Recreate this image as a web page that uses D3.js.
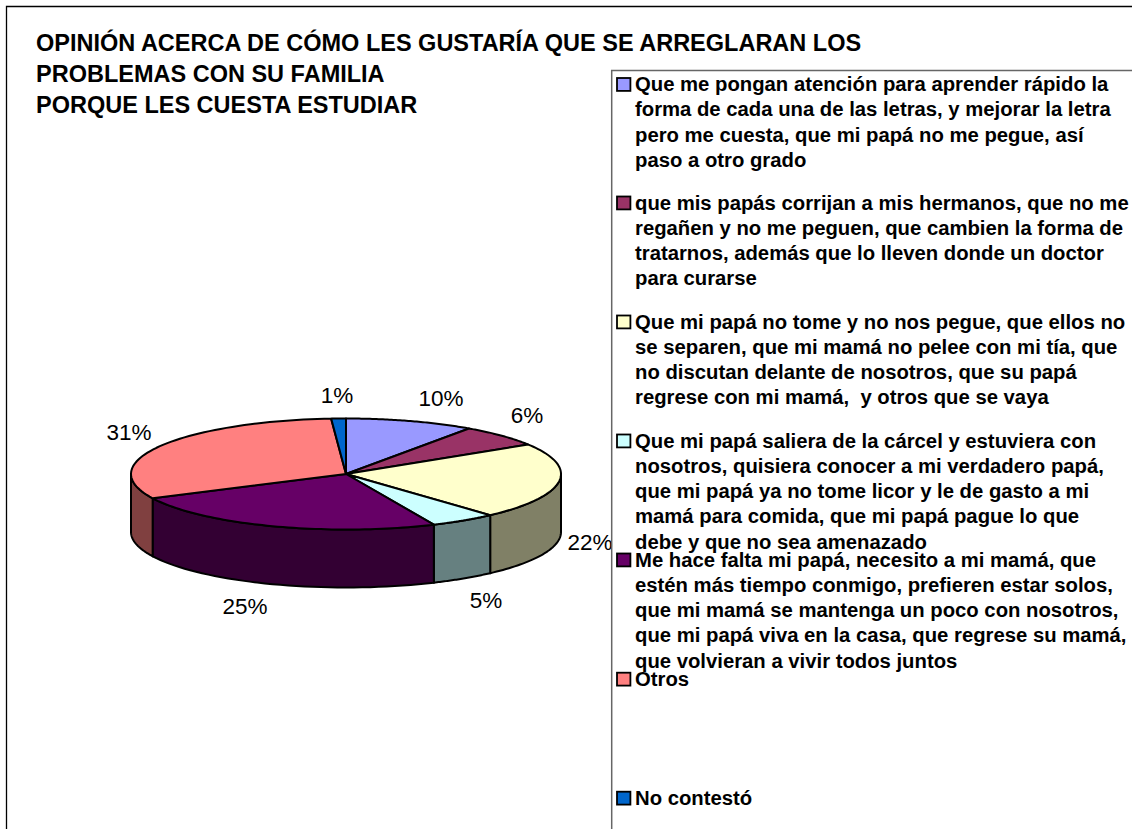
<!DOCTYPE html>
<html><head><meta charset="utf-8">
<script src="https://cdnjs.cloudflare.com/ajax/libs/d3/7.8.5/d3.min.js"></script>
<style>html,body{margin:0;padding:0;background:#fff}svg{display:block}
text{font-family:"Liberation Sans",Arial,sans-serif;fill:#000;white-space:pre}</style></head>
<body><svg id="c" width="1132" height="829"></svg>
<script>
const titleLines=["OPINIÓN ACERCA DE CÓMO LES GUSTARÍA QUE SE ARREGLARAN LOS","PROBLEMAS CON SU FAMILIA","PORQUE LES CUESTA ESTUDIAR"];
const values=[9.7,6.4,22.2,5.0,24.5,31.1,1.1];
const topColors=["#9999FF","#993366","#FFFFCC","#CCFFFF","#660066","#FF8080","#0066CC"];
const sideColors=["#4D4D80","#4D1A33","#808066","#668080","#330033","#804040","#003366"];
const legendLines=[
["Que me pongan atención para aprender rápido la","forma de cada una de las letras, y mejorar la letra","pero me cuesta, que mi papá no me pegue, así","paso a otro grado"],
["que mis papás corrijan a mis hermanos, que no me","regañen y no me peguen, que cambien la forma de","tratarnos, además que lo lleven donde un doctor","para curarse"],
["Que mi papá no tome y no nos pegue, que ellos no","se separen, que mi mamá no pelee con mi tía, que","no discutan delante de nosotros, que su papá","regrese con mi mamá,  y otros que se vaya"],
["Que mi papá saliera de la cárcel y estuviera con","nosotros, quisiera conocer a mi verdadero papá,","que mi papá ya no tome licor y le de gasto a mi","mamá para comida, que mi papá pague lo que","debe y que no sea amenazado"],
["Me hace falta mi papá, necesito a mi mamá, que","estén más tiempo conmigo, prefieren estar solos,","que mi mamá se mantenga un poco con nosotros,","que mi papá viva en la casa, que regrese su mamá,","que volvieran a vivir todos juntos"],
["Otros"],["No contestó"]];
const legendBase=[91,209.5,328.5,447.5,566.5,685.7,804.7];
const labelPos=[[441,406],[527,423],[590,550],[486,608],[245,614],[129,440],[337,403]];

const svg=d3.select("#c");
const cx=346,cy=474,rx=215,ry=55.5,depth=58;
const px=a=>cx+rx*Math.sin(a), py=a=>cy-ry*Math.cos(a);
const arcs=d3.pie().sort(null).value(d=>d)(values);

svg.append("path").attr("d","M6.5,829V6.5H1132").attr("fill","none").attr("stroke","#000").attr("stroke-width",1.3);
svg.append("g").selectAll("text").data(titleLines).join("text")
 .attr("x",36).attr("y",(d,i)=>[51,82,113][i]).attr("font-size",23.5).attr("font-weight","bold").text(d=>d);

function wallPath(a0,a1){
  const n=40,pts=d3.range(n+1).map(i=>a0+(a1-a0)*i/n);
  const top=pts.map(a=>[px(a),py(a)]), bot=pts.slice().reverse().map(a=>[px(a),py(a)+depth]);
  return d3.line()(top.concat(bot))+"Z";
}
const H=Math.PI/2;
svg.append("g").selectAll("path").data(arcs.filter(d=>d.endAngle>H&&d.startAngle<3*H)).join("path")
 .attr("d",d=>wallPath(Math.max(d.startAngle,H),Math.min(d.endAngle,3*H)))
 .attr("fill",d=>sideColors[d.index]).attr("stroke","#000").attr("stroke-width",2).attr("stroke-linejoin","round");
function topPath(d){
  const n=60,pts=d3.range(n+1).map(i=>{const a=d.startAngle+(d.endAngle-d.startAngle)*i/n;return [px(a),py(a)];});
  return d3.line()([[cx,cy]].concat(pts))+"Z";
}
svg.append("g").selectAll("path").data(arcs).join("path").attr("d",topPath)
 .attr("fill",d=>topColors[d.index]).attr("stroke","#000").attr("stroke-width",2).attr("stroke-linejoin","round");
svg.append("g").selectAll("text").data(arcs).join("text")
 .attr("x",d=>labelPos[d.index][0]).attr("y",d=>labelPos[d.index][1]).attr("text-anchor","middle")
 .attr("font-size",22.5).text(d=>Math.round(d.value)+"%");

svg.append("path").attr("d","M611.7,829V70.5H1132").attr("fill","none").attr("stroke","#666").attr("stroke-width",1.5);
const lg=svg.append("g").selectAll("g").data(legendLines).join("g");
lg.append("rect").attr("x",617).attr("y",(d,i)=>legendBase[i]-13).attr("width",13.4).attr("height",12.9)
 .attr("fill",(d,i)=>topColors[i]).attr("stroke","#000").attr("stroke-width",1.8);
lg.each(function(d,i){
  d3.select(this).selectAll("text").data(d).join("text").attr("x",635)
   .attr("y",(t,j)=>legendBase[i]+j*25.3).attr("font-size",20.3).attr("font-weight","bold").text(t=>t);
});
</script></body></html>
